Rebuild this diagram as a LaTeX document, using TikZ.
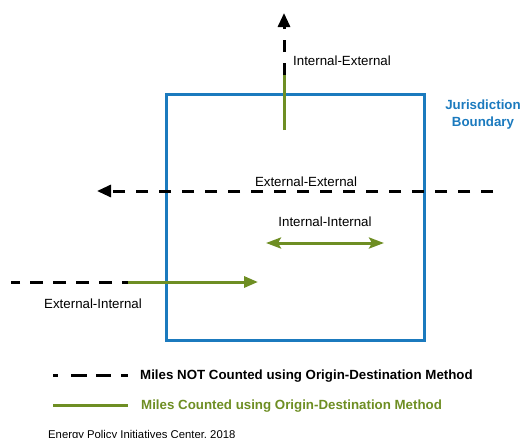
\documentclass[tikz,border=0pt]{standalone}
\usepackage{fontspec}
\setmainfont{Liberation Sans}
\usetikzlibrary{arrows.meta}
\definecolor{jblue}{RGB}{27,122,190}
\definecolor{ogreen}{RGB}{110,142,35}
\begin{document}
\begin{tikzpicture}[x=1pt,y=-1pt,
  notcounted/.style={line width=3pt, black, dash pattern=on 12pt off 11pt},
  counted/.style={line width=3pt, ogreen},
  blacktip/.style={-{Triangle[length=14pt,width=12pt]}},
  greentip/.style={-{Triangle[length=14pt,width=11pt]}},
  dbltip/.style={{Stealth[length=15pt,width=11pt,inset=3pt]}-{Stealth[length=15pt,width=11pt,inset=3pt]}},
  lbl/.style={font=\fontsize{13.3}{16}\selectfont, inner sep=0pt},
  legtxt/.style={font=\fontsize{13.3}{16}\selectfont\bfseries, inner sep=0pt, anchor=base west},
  jur/.style={font=\fontsize{13.3}{17}\selectfont\bfseries, text=jblue, inner sep=0pt, align=center, anchor=base},
]
\useasboundingbox (0,0) rectangle (521,437);
\node[draw=jblue, line width=3pt, minimum width=258pt, minimum height=246pt, inner sep=0pt] (box) at (295,217) {};

% Internal-External
\coordinate (ieS) at (284,130);
\coordinate (ieM) at (284,75);
\coordinate (ieT) at (284,13);
\draw[counted] (ieS) -- (ieM);
\draw[notcounted, blacktip] (ieM) -- (ieT);
\node[lbl, anchor=base west] (ieL) at (293,65) {Internal-External};

% External-External
\coordinate (eeS) at (493,191);
\coordinate (eeT) at (97,191);
\draw[notcounted, blacktip] (eeS) -- (eeT);
\node[lbl, anchor=base] (eeL) at (306,186) {External-External};

% Internal-Internal
\coordinate (iiL) at (266,243);
\coordinate (iiR) at (384,243);
\draw[counted, dbltip] (iiL) -- (iiR);
\node[lbl, anchor=base] (iiLb) at (325,226) {Internal-Internal};

% External-Internal
\coordinate (eiS) at (11,282);
\coordinate (eiM) at (128,282);
\coordinate (eiT) at (258,282);
\draw[line width=3pt, black, dash pattern=on 13pt off 10pt, dash phase=7pt] (eiM) -- (eiS);
\draw[counted, greentip] (eiM) -- (eiT);
\node[lbl, anchor=base] (eiL) at (93,308) {External-Internal};

% Jurisdiction label
\node[jur] (jL) at (483,126) {Jurisdiction\\Boundary};

% Legend
\coordinate (l1a) at (53,375);
\coordinate (l1b) at (128,375);
\draw[line width=3pt, black, dash pattern=on 5pt off 13pt on 16pt off 9pt on 15pt off 10pt on 7pt off 20pt] (l1a) -- (l1b);
\node[legtxt] (l1t) at (140,379) {Miles NOT Counted using Origin-Destination Method};
\coordinate (l2a) at (53,405);
\coordinate (l2b) at (128,405);
\draw[counted] (l2a) -- (l2b);
\node[legtxt, text=ogreen] (l2t) at (141,409) {Miles Counted using Origin-Destination Method};

% Footer
\node[inner sep=0pt, anchor=base west, font=\fontsize{11.3}{13}\selectfont] (foot) at (48,438) {Energy Policy Initiatives Center, 2018};
\end{tikzpicture}
\end{document}
